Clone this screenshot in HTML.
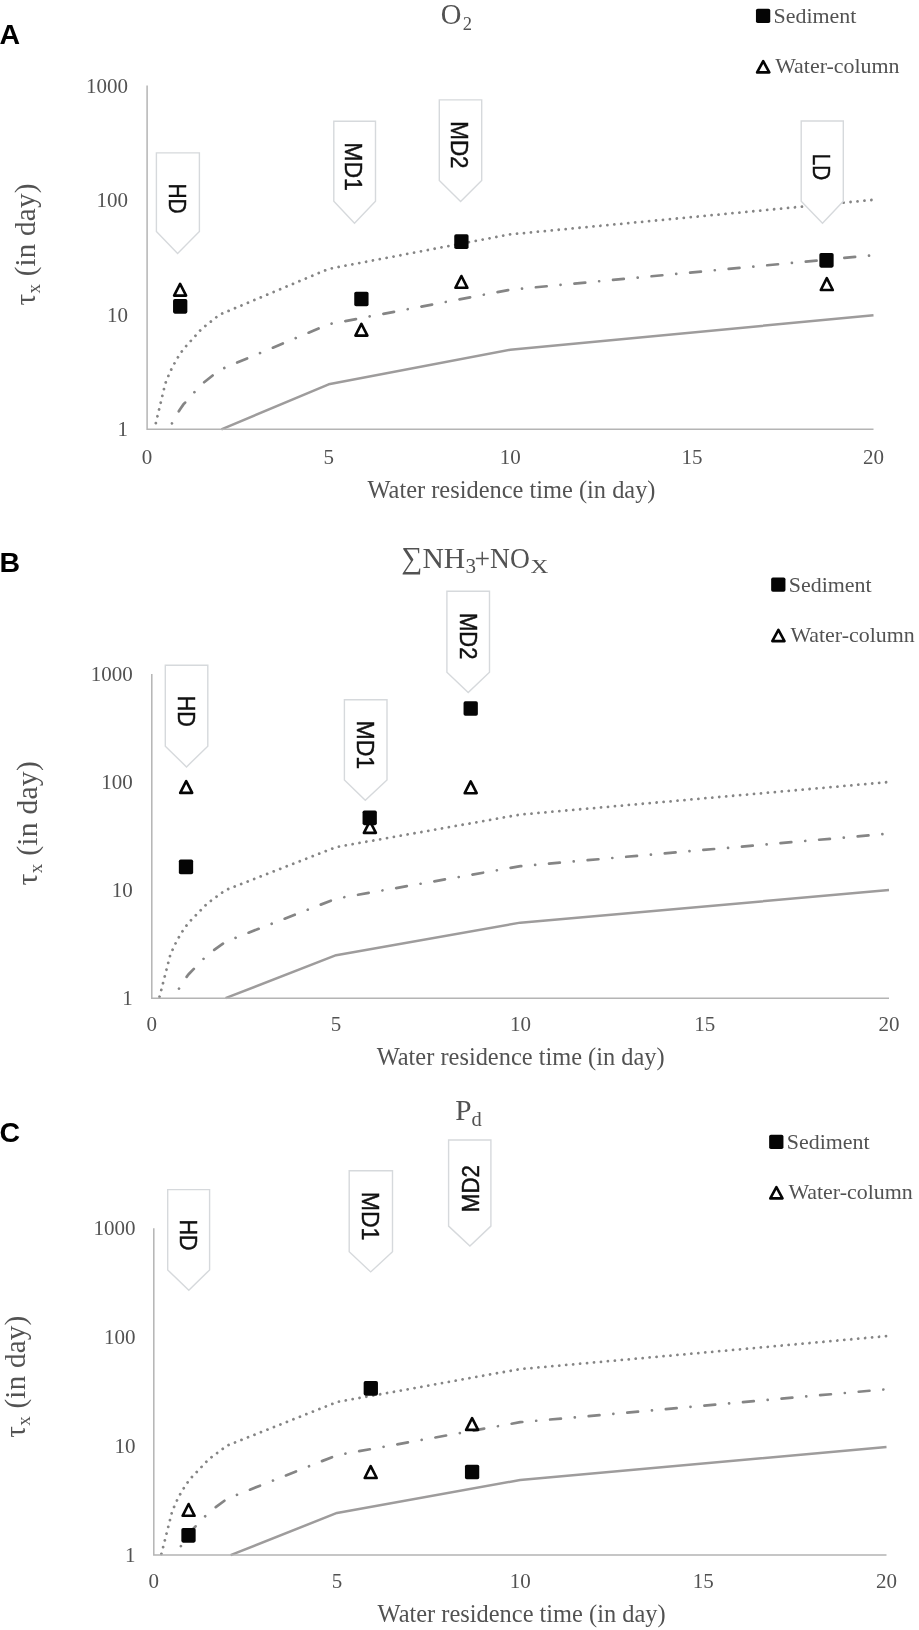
<!DOCTYPE html>
<html><head><meta charset="utf-8"><title>Figure</title>
<style>
html,body{margin:0;padding:0;background:#fff;}
svg{display:block;font-family:"Liberation Serif",serif;will-change:transform;}
</style></head><body>
<svg width="919" height="1630" viewBox="0 0 919 1630">
<rect width="919" height="1630" fill="#fff"/>
<path d="M221.41 429.30 L328.70 384.34 L510.30 349.79 L873.50 315.25" fill="none" stroke="#9e9c9c" stroke-width="2.5" stroke-linejoin="round"/><path d="M169.18 429.30 L172.52 422.22 L176.16 415.56 L179.79 409.69 L183.42 404.44 L201.58 384.24 L219.74 369.90 L328.70 324.24 L510.30 289.69 L873.50 255.15" fill="none" stroke="#858585" stroke-width="2.7" stroke-linecap="round" stroke-dasharray="10.8 13.96 0.01 13.96" stroke-dashoffset="18.3"/><path d="M154.36 429.30 L154.36 429.30 L165.26 383.64 L168.89 374.55 L172.52 366.87 L176.16 360.21 L179.79 354.34 L183.42 349.09 L201.58 328.89 L219.74 314.55 L328.70 268.89 L510.30 234.34 L873.50 199.80" fill="none" stroke="#858585" stroke-width="2.8" stroke-linecap="round" stroke-dasharray="0.01 6.97" stroke-dashoffset="-6.4"/><path d="M147.10 85.50 V429.30 H873.50" fill="none" stroke="#b4b4b4" stroke-width="1.5"/><text x="128.10" y="436.30" text-anchor="end" font-size="21" fill="#525252">1</text><text x="128.10" y="321.70" text-anchor="end" font-size="21" fill="#525252">10</text><text x="128.10" y="207.10" text-anchor="end" font-size="21" fill="#525252">100</text><text x="128.10" y="92.50" text-anchor="end" font-size="21" fill="#525252">1000</text><text x="147.10" y="463.60" text-anchor="middle" font-size="21" fill="#525252">0</text><text x="328.70" y="463.60" text-anchor="middle" font-size="21" fill="#525252">5</text><text x="510.30" y="463.60" text-anchor="middle" font-size="21" fill="#525252">10</text><text x="691.90" y="463.60" text-anchor="middle" font-size="21" fill="#525252">15</text><text x="873.50" y="463.60" text-anchor="middle" font-size="21" fill="#525252">20</text><text x="367.50" y="498.30" textLength="288" lengthAdjust="spacingAndGlyphs" font-size="25" fill="#525252">Water residence time (in day)</text><text transform="translate(35.00 305.50) rotate(-90)" font-size="29" letter-spacing="0.25" fill="#525252">τ<tspan font-size="19" dy="5">x</tspan><tspan dy="-5"> (in day)</tspan></text><text x="-0.50" y="44.30" font-family="Liberation Sans, sans-serif" font-weight="bold" font-size="28.5" fill="#000">A</text><text x="440.8" y="23.5" font-size="28.6" fill="#525252">O<tspan font-size="18.5" dx="1.2" dy="6.2">2</tspan></text><rect x="755.95" y="8.70" width="14.30" height="14.40" rx="1.8" fill="#050505"/><text x="773.60" y="22.80" textLength="82.8" lengthAdjust="spacingAndGlyphs" font-size="21.5" fill="#525252">Sediment</text><path d="M763.20 61.20 L769.30 72.40 L757.10 72.40 Z" fill="#fff" stroke="#050505" stroke-width="2.60" stroke-linejoin="round"/><text x="775.20" y="73.30" textLength="124.3" lengthAdjust="spacingAndGlyphs" font-size="21.5" fill="#525252">Water-column</text><path d="M156.40 152.90 H199.40 V231.40 L177.60 253.50 L156.40 231.40 Z" fill="#fff" stroke="#d6d9dc" stroke-width="1.4"/><text transform="translate(177.60 198.60) rotate(90)" x="-15.20" y="8.23" textLength="30.20" lengthAdjust="spacingAndGlyphs" font-family="Liberation Sans, sans-serif" font-size="23.00" fill="#111" stroke="#111" stroke-width="0.45">HD</text><path d="M333.80 121.20 H375.50 V201.20 L354.50 223.20 L333.80 201.20 Z" fill="#fff" stroke="#d6d9dc" stroke-width="1.4"/><text transform="translate(353.60 166.70) rotate(90)" x="-24.40" y="8.23" textLength="48.60" lengthAdjust="spacingAndGlyphs" font-family="Liberation Sans, sans-serif" font-size="23.00" fill="#111" stroke="#111" stroke-width="0.45">MD1</text><path d="M439.30 99.90 H481.70 V180.50 L460.60 201.60 L439.30 180.50 Z" fill="#fff" stroke="#d6d9dc" stroke-width="1.4"/><text transform="translate(459.60 145.00) rotate(90)" x="-23.80" y="8.23" textLength="47.40" lengthAdjust="spacingAndGlyphs" font-family="Liberation Sans, sans-serif" font-size="23.00" fill="#111" stroke="#111" stroke-width="0.45">MD2</text><path d="M801.20 121.00 H843.30 V201.20 L822.50 223.20 L801.20 201.20 Z" fill="#fff" stroke="#d6d9dc" stroke-width="1.4"/><text transform="translate(821.50 167.10) rotate(90)" x="-13.30" y="8.23" textLength="26.40" lengthAdjust="spacingAndGlyphs" font-family="Liberation Sans, sans-serif" font-size="23.00" fill="#111" stroke="#111" stroke-width="0.45">LD</text><path d="M180.10 283.80 L186.10 295.60 L174.10 295.60 Z" fill="#fff" stroke="#050505" stroke-width="2.60" stroke-linejoin="round"/><path d="M361.40 323.80 L367.40 335.60 L355.40 335.60 Z" fill="#fff" stroke="#050505" stroke-width="2.60" stroke-linejoin="round"/><path d="M461.40 276.00 L467.40 287.80 L455.40 287.80 Z" fill="#fff" stroke="#050505" stroke-width="2.60" stroke-linejoin="round"/><path d="M826.80 278.20 L832.80 290.00 L820.80 290.00 Z" fill="#fff" stroke="#050505" stroke-width="2.60" stroke-linejoin="round"/><rect x="173.05" y="298.95" width="14.30" height="14.70" rx="1.8" fill="#050505"/><rect x="354.25" y="291.65" width="14.30" height="14.70" rx="1.8" fill="#050505"/><rect x="454.25" y="234.25" width="14.30" height="14.70" rx="1.8" fill="#050505"/><rect x="819.35" y="252.95" width="14.30" height="14.70" rx="1.8" fill="#050505"/><path d="M225.52 998.20 L225.52 998.20 L336.10 955.18 L520.40 922.64 L889.00 890.10" fill="none" stroke="#9e9c9c" stroke-width="2.5" stroke-linejoin="round"/><path d="M173.92 998.20 L173.92 998.20 L177.60 990.96 L181.29 984.69 L184.97 979.16 L188.66 974.22 L207.09 955.18 L225.52 941.68 L336.10 898.66 L520.40 866.12 L889.00 833.58" fill="none" stroke="#858585" stroke-width="2.7" stroke-linecap="round" stroke-dasharray="10.8 13.96 0.01 13.96" stroke-dashoffset="13.9"/><path d="M159.17 998.20 L159.17 998.20 L170.23 955.18 L173.92 946.62 L177.60 939.39 L181.29 933.12 L184.97 927.59 L188.66 922.64 L207.09 903.61 L225.52 890.10 L336.10 847.08 L520.40 814.54 L889.00 782.00" fill="none" stroke="#858585" stroke-width="2.8" stroke-linecap="round" stroke-dasharray="0.01 6.97" stroke-dashoffset="-1.5"/><path d="M151.80 673.90 V998.20 H889.00" fill="none" stroke="#b4b4b4" stroke-width="1.5"/><text x="132.80" y="1005.20" text-anchor="end" font-size="21" fill="#525252">1</text><text x="132.80" y="897.10" text-anchor="end" font-size="21" fill="#525252">10</text><text x="132.80" y="789.00" text-anchor="end" font-size="21" fill="#525252">100</text><text x="132.80" y="680.90" text-anchor="end" font-size="21" fill="#525252">1000</text><text x="151.80" y="1031.40" text-anchor="middle" font-size="21" fill="#525252">0</text><text x="336.10" y="1031.40" text-anchor="middle" font-size="21" fill="#525252">5</text><text x="520.40" y="1031.40" text-anchor="middle" font-size="21" fill="#525252">10</text><text x="704.70" y="1031.40" text-anchor="middle" font-size="21" fill="#525252">15</text><text x="889.00" y="1031.40" text-anchor="middle" font-size="21" fill="#525252">20</text><text x="376.70" y="1065.00" textLength="288" lengthAdjust="spacingAndGlyphs" font-size="25" fill="#525252">Water residence time (in day)</text><text transform="translate(37.30 885.40) rotate(-90)" font-size="29.6" letter-spacing="0.25" fill="#525252">τ<tspan font-size="19" dy="5">x</tspan><tspan dy="-5"> (in day)</tspan></text><text x="-0.50" y="572.00" font-family="Liberation Sans, sans-serif" font-weight="bold" font-size="28.5" fill="#000">B</text><text x="401.4" y="567.85" textLength="63.8" lengthAdjust="spacingAndGlyphs" font-size="30.3" fill="#525252">∑NH</text><text x="465.6" y="573.2" font-size="21" fill="#525252">3</text><text x="474.6" y="567.85" textLength="55.3" lengthAdjust="spacingAndGlyphs" font-size="30.3" fill="#525252">+NO</text><text x="530.4" y="573.2" textLength="17.8" lengthAdjust="spacingAndGlyphs" font-size="18.4" fill="#525252">X</text><rect x="771.15" y="577.40" width="14.30" height="14.40" rx="1.8" fill="#050505"/><text x="788.80" y="591.50" textLength="82.8" lengthAdjust="spacingAndGlyphs" font-size="21.5" fill="#525252">Sediment</text><path d="M778.40 629.90 L784.50 641.10 L772.30 641.10 Z" fill="#fff" stroke="#050505" stroke-width="2.60" stroke-linejoin="round"/><text x="790.40" y="642.00" textLength="124.3" lengthAdjust="spacingAndGlyphs" font-size="21.5" fill="#525252">Water-column</text><path d="M165.30 665.30 H207.80 V746.20 L186.50 766.90 L165.30 746.20 Z" fill="#fff" stroke="#d6d9dc" stroke-width="1.4"/><text transform="translate(186.00 711.40) rotate(90)" x="-15.60" y="8.23" textLength="31.00" lengthAdjust="spacingAndGlyphs" font-family="Liberation Sans, sans-serif" font-size="23.00" fill="#111" stroke="#111" stroke-width="0.45">HD</text><path d="M344.40 699.70 H387.00 V780.00 L365.30 800.20 L344.40 780.00 Z" fill="#fff" stroke="#d6d9dc" stroke-width="1.4"/><text transform="translate(365.50 744.90) rotate(90)" x="-24.50" y="8.23" textLength="48.80" lengthAdjust="spacingAndGlyphs" font-family="Liberation Sans, sans-serif" font-size="23.00" fill="#111" stroke="#111" stroke-width="0.45">MD1</text><path d="M446.90 591.30 H489.50 V672.20 L468.20 692.50 L446.90 672.20 Z" fill="#fff" stroke="#d6d9dc" stroke-width="1.4"/><text transform="translate(467.80 636.30) rotate(90)" x="-23.30" y="8.23" textLength="46.40" lengthAdjust="spacingAndGlyphs" font-family="Liberation Sans, sans-serif" font-size="23.00" fill="#111" stroke="#111" stroke-width="0.45">MD2</text><path d="M186.20 781.10 L192.20 792.90 L180.20 792.90 Z" fill="#fff" stroke="#050505" stroke-width="2.60" stroke-linejoin="round"/><path d="M369.90 821.10 L375.90 832.90 L363.90 832.90 Z" fill="#fff" stroke="#050505" stroke-width="2.60" stroke-linejoin="round"/><path d="M470.70 781.40 L476.70 793.20 L464.70 793.20 Z" fill="#fff" stroke="#050505" stroke-width="2.60" stroke-linejoin="round"/><rect x="178.85" y="859.55" width="14.30" height="14.70" rx="1.8" fill="#050505"/><rect x="362.55" y="810.45" width="14.30" height="14.70" rx="1.8" fill="#050505"/><rect x="463.55" y="701.15" width="14.30" height="14.70" rx="1.8" fill="#050505"/><path d="M230.60 1555.10 L336.98 1512.93 L520.15 1479.96 L886.50 1447.00" fill="none" stroke="#9e9c9c" stroke-width="2.5" stroke-linejoin="round"/><path d="M176.23 1555.10 L179.44 1548.67 L183.11 1542.32 L186.77 1536.72 L190.44 1531.71 L208.75 1512.43 L227.07 1498.74 L336.98 1455.17 L520.15 1422.21 L886.50 1389.24" fill="none" stroke="#858585" stroke-width="2.7" stroke-linecap="round" stroke-dasharray="10.8 13.96 0.01 13.96" stroke-dashoffset="14.7"/><path d="M161.13 1555.10 L161.13 1555.10 L172.12 1511.53 L175.78 1502.86 L179.44 1495.52 L183.11 1489.17 L186.77 1483.57 L190.44 1478.56 L208.75 1459.28 L227.07 1445.60 L336.98 1402.03 L520.15 1369.06 L886.50 1336.10" fill="none" stroke="#858585" stroke-width="2.8" stroke-linecap="round" stroke-dasharray="0.01 6.97" stroke-dashoffset="-8.15"/><path d="M153.80 1228.20 V1555.10 H886.50" fill="none" stroke="#b4b4b4" stroke-width="1.5"/><text x="135.60" y="1562.10" text-anchor="end" font-size="21" fill="#525252">1</text><text x="135.60" y="1453.13" text-anchor="end" font-size="21" fill="#525252">10</text><text x="135.60" y="1344.17" text-anchor="end" font-size="21" fill="#525252">100</text><text x="135.60" y="1235.20" text-anchor="end" font-size="21" fill="#525252">1000</text><text x="153.80" y="1588.30" text-anchor="middle" font-size="21" fill="#525252">0</text><text x="336.98" y="1588.30" text-anchor="middle" font-size="21" fill="#525252">5</text><text x="520.15" y="1588.30" text-anchor="middle" font-size="21" fill="#525252">10</text><text x="703.33" y="1588.30" text-anchor="middle" font-size="21" fill="#525252">15</text><text x="886.50" y="1588.30" text-anchor="middle" font-size="21" fill="#525252">20</text><text x="377.60" y="1622.20" textLength="288" lengthAdjust="spacingAndGlyphs" font-size="25" fill="#525252">Water residence time (in day)</text><text transform="translate(25.20 1437.70) rotate(-90)" font-size="29" letter-spacing="0.25" fill="#525252">τ<tspan font-size="19" dy="5">x</tspan><tspan dy="-5"> (in day)</tspan></text><text x="-0.50" y="1142.00" font-family="Liberation Sans, sans-serif" font-weight="bold" font-size="28.5" fill="#000">C</text><text x="455.3" y="1120.2" font-size="29.3" fill="#525252">P<tspan font-size="20.5" dy="5.7">d</tspan></text><rect x="769.15" y="1134.70" width="14.30" height="14.40" rx="1.8" fill="#050505"/><text x="786.80" y="1148.80" textLength="82.8" lengthAdjust="spacingAndGlyphs" font-size="21.5" fill="#525252">Sediment</text><path d="M776.40 1187.20 L782.50 1198.40 L770.30 1198.40 Z" fill="#fff" stroke="#050505" stroke-width="2.60" stroke-linejoin="round"/><text x="788.40" y="1199.30" textLength="124.3" lengthAdjust="spacingAndGlyphs" font-size="21.5" fill="#525252">Water-column</text><path d="M167.70 1189.60 H209.60 V1269.90 L188.80 1290.20 L167.70 1269.90 Z" fill="#fff" stroke="#d6d9dc" stroke-width="1.4"/><text transform="translate(188.00 1235.10) rotate(90)" x="-15.55" y="8.23" textLength="30.90" lengthAdjust="spacingAndGlyphs" font-family="Liberation Sans, sans-serif" font-size="23.00" fill="#111" stroke="#111" stroke-width="0.45">HD</text><path d="M349.20 1170.70 H392.50 V1251.80 L370.70 1271.90 L349.20 1251.80 Z" fill="#fff" stroke="#d6d9dc" stroke-width="1.4"/><text transform="translate(370.20 1216.10) rotate(90)" x="-24.45" y="8.23" textLength="48.70" lengthAdjust="spacingAndGlyphs" font-family="Liberation Sans, sans-serif" font-size="23.00" fill="#111" stroke="#111" stroke-width="0.45">MD1</text><path d="M448.60 1140.00 H490.90 V1226.10 L469.90 1246.00 L448.60 1226.10 Z" fill="#fff" stroke="#d6d9dc" stroke-width="1.4"/><text transform="translate(471.20 1188.50) rotate(-90)" x="-23.70" y="8.23" textLength="47.20" lengthAdjust="spacingAndGlyphs" font-family="Liberation Sans, sans-serif" font-size="23.00" fill="#111" stroke="#111" stroke-width="0.45">MD2</text><path d="M188.60 1504.00 L194.60 1515.80 L182.60 1515.80 Z" fill="#fff" stroke="#050505" stroke-width="2.60" stroke-linejoin="round"/><path d="M370.70 1466.20 L376.70 1478.00 L364.70 1478.00 Z" fill="#fff" stroke="#050505" stroke-width="2.60" stroke-linejoin="round"/><path d="M472.10 1418.10 L478.10 1429.90 L466.10 1429.90 Z" fill="#fff" stroke="#050505" stroke-width="2.60" stroke-linejoin="round"/><rect x="181.35" y="1527.95" width="14.30" height="14.70" rx="1.8" fill="#050505"/><rect x="363.65" y="1380.95" width="14.30" height="14.70" rx="1.8" fill="#050505"/><rect x="464.95" y="1464.65" width="14.30" height="14.70" rx="1.8" fill="#050505"/>
</svg>
</body></html>
